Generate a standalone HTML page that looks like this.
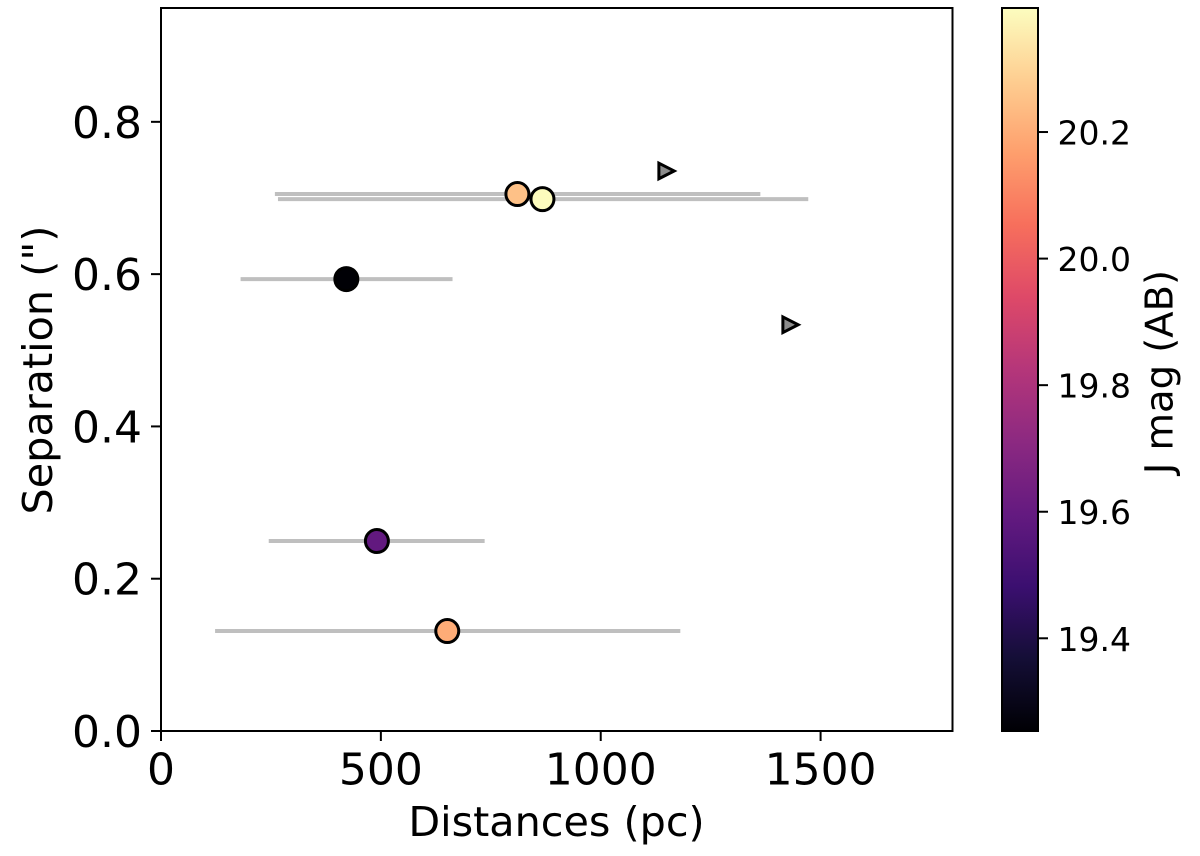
<!DOCTYPE html>
<html lang="en">
<head>
<meta charset="utf-8">
<title>Separation vs distance</title>
<style>
html,body{margin:0;padding:0;background:#fff;}
svg{display:block;}
text{font-family:"DejaVu Sans","Liberation Sans",sans-serif;fill:#000;}
</style>
</head>
<body>
<svg id="chart" xmlns="http://www.w3.org/2000/svg" width="1200" height="856" viewBox="0 0 1200 856">
  <defs>
    <linearGradient id="magma-gradient" x1="0" y1="1" x2="0" y2="0"></linearGradient>
  </defs>
</svg>
<script>
// Data
const distances = [810.5, 867.5, 421.5, 491, 651];
const separations = [0.7052, 0.6985, 0.5935, 0.2495, 0.1313];
const distanceLow = [259, 266, 181, 245, 123];
const distanceHigh = [1363, 1472, 663, 736, 1181];
const jMags = [20.25, 20.39, 19.255, 19.59, 20.2];
const limitDistances = [1150, 1432];
const limitSeparations = [0.7355, 0.5335];
const xTicks = [0, 500, 1000, 1500];
const yTicks = [0.0, 0.2, 0.4, 0.6, 0.8];
const colorTicks = [19.4, 19.6, 19.8, 20.0, 20.2];
const xDomain = [0, 1800];
const yDomain = [0, 0.9495];
const colorDomain = [19.2535, 20.396];
const magma = ['#000004','#140e36','#3b0f70','#641a80','#8c2981','#b5367a','#de4968','#f76f5c','#fe9f6d','#fece91','#fcfdbf'];

// Layout
const plot = {left: 161, right: 952.5, top: 8, bottom: 731};
const cbar = {left: 1002, right: 1038, top: 8, bottom: 731};
const NS = 'http://www.w3.org/2000/svg';
const svg = document.getElementById('chart');

function xScale(v){ return plot.left + (v - xDomain[0]) / (xDomain[1] - xDomain[0]) * (plot.right - plot.left); }
function yScale(v){ return plot.bottom - (v - yDomain[0]) / (yDomain[1] - yDomain[0]) * (plot.bottom - plot.top); }
function cScale(v){ return cbar.bottom - (v - colorDomain[0]) / (colorDomain[1] - colorDomain[0]) * (cbar.bottom - cbar.top); }

function hexToRgb(h){ return [1,3,5].map(function(i){ return parseInt(h.substr(i,2),16); }); }
function colorFor(v){
  let t = (v - colorDomain[0]) / (colorDomain[1] - colorDomain[0]);
  t = Math.max(0, Math.min(1, t)) * (magma.length - 1);
  const i = Math.min(Math.floor(t), magma.length - 2);
  const f = t - i;
  const a = hexToRgb(magma[i]);
  const b = hexToRgb(magma[i + 1]);
  return 'rgb(' + a.map(function(c, k){ return Math.round(c + (b[k] - c) * f); }).join(',') + ')';
}

function make(tag, parent, props){
  const el = document.createElementNS(NS, tag);
  for (const k in props) el.setAttribute(k, props[k]);
  (parent || svg).appendChild(el);
  return el;
}

// Colorbar gradient
const grad = document.getElementById('magma-gradient');
magma.forEach(function(c, i){
  make('stop', grad, {offset: (i / (magma.length - 1)), 'stop-color': c});
});

// Plot background
const plotBg = make('rect', svg, {x: plot.left, y: plot.top, width: plot.right - plot.left, height: plot.bottom - plot.top, fill: '#fff'});



// Error bars
const errGroup = make('g', svg, {});


distances.forEach(function(d, i){
  const line = make('line', errGroup, {x1: xScale(distanceLow[i]), x2: xScale(distanceHigh[i]), y1: yScale(separations[i]), y2: yScale(separations[i]), stroke: '#bfbfbf', 'stroke-width': 4});
  
  
});

// Limit markers
const limGroup = make('g', svg, {});


limitDistances.forEach(function(d, i){
  const cx = xScale(d), cy = yScale(limitSeparations[i]);
  const tri = make('polygon', limGroup, {points: (cx - 7.8) + ',' + (cy - 7.8) + ' ' + (cx + 7.5) + ',' + cy + ' ' + (cx - 7.8) + ',' + (cy + 7.8), fill: '#8c8c8c', stroke: '#000', 'stroke-width': 3, 'stroke-linejoin': 'miter'});
  
  
});

// Points
const ptGroup = make('g', svg, {});


distances.forEach(function(d, i){
  const pt = make('circle', ptGroup, {cx: xScale(d), cy: yScale(separations[i]), r: 11.5, fill: colorFor(jMags[i]), stroke: '#000', 'stroke-width': 3});
  
  
});

// Axes frame
const frame = make('rect', svg, {x: plot.left, y: plot.top, width: plot.right - plot.left, height: plot.bottom - plot.top, fill: 'none', stroke: '#000', 'stroke-width': 2});



// X ticks
xTicks.forEach(function(v){
  const x = xScale(v);
  const tick = make('line', svg, {x1: x, x2: x, y1: plot.bottom, y2: plot.bottom + 10, stroke: '#000', 'stroke-width': 2});
  
  
  const label = make('text', svg, {x: x, y: 784.5, 'text-anchor': 'middle', 'font-size': 44});
  
  
  label.textContent = String(v);
});

// Y ticks
yTicks.forEach(function(v){
  const y = yScale(v);
  const tick = make('line', svg, {x1: plot.left - 10, x2: plot.left, y1: y, y2: y, stroke: '#000', 'stroke-width': 2});
  
  
  const label = make('text', svg, {x: 142, y: y + 16, 'text-anchor': 'end', 'font-size': 44});
  
  
  label.textContent = v.toFixed(1);
});

// Axis titles
const xTitle = make('text', svg, {x: 556.5, y: 836, 'text-anchor': 'middle', 'font-size': 41.3});


xTitle.textContent = 'Distances (pc)';

const yTitle = make('text', svg, {x: 0, y: 0, 'text-anchor': 'middle', 'font-size': 41.3, transform: 'translate(52,370) rotate(-90)'});


yTitle.textContent = 'Separation (")';

// Colorbar
const cbarRect = make('rect', svg, {x: cbar.left, y: cbar.top, width: cbar.right - cbar.left, height: cbar.bottom - cbar.top, fill: 'url(#magma-gradient)', stroke: '#000', 'stroke-width': 2});



colorTicks.forEach(function(v){
  const y = cScale(v);
  const tick = make('line', svg, {x1: cbar.right, x2: cbar.right + 10, y1: y, y2: y, stroke: '#000', 'stroke-width': 2});
  
  
  const label = make('text', svg, {x: 1057.5, y: y + 12.5, 'font-size': 33});
  
  
  label.textContent = v.toFixed(1);
});

const cTitle = make('text', svg, {x: 0, y: 0, 'text-anchor': 'middle', 'font-size': 38.5, transform: 'translate(1172.5,372) rotate(-90)'});


cTitle.textContent = 'J mag (AB)';
</script>
</body>
</html>
